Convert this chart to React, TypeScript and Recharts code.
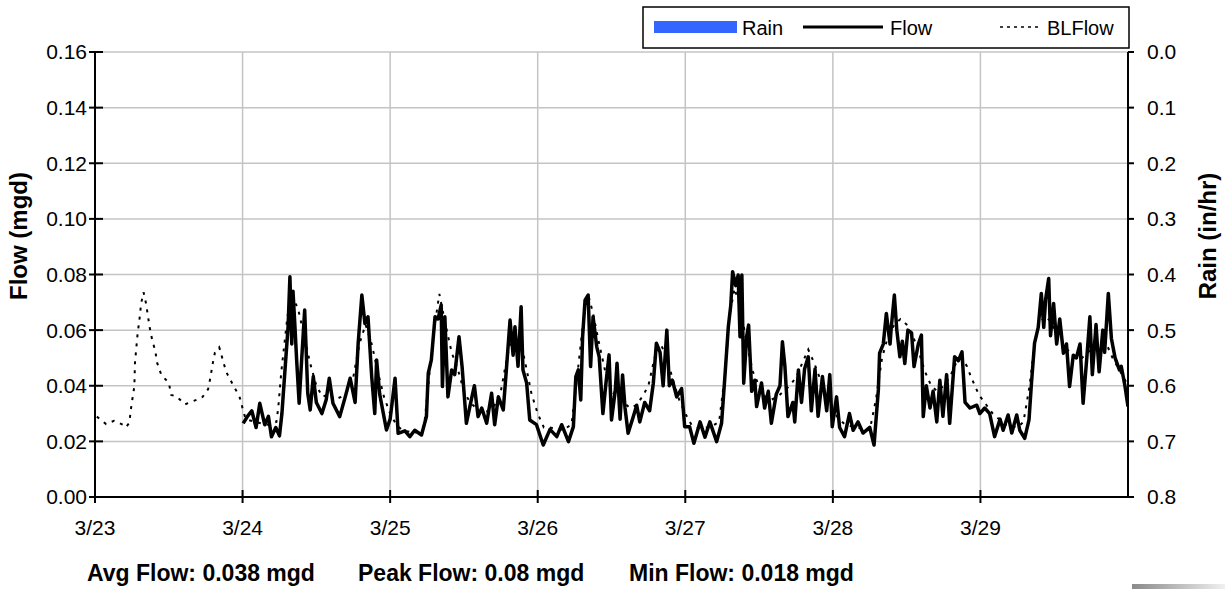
import React from 'react';
import { ComposedChart, Line, Bar, XAxis, YAxis, CartesianGrid } from 'recharts';

// Hours since 3/23 00:00
const rainHours = [0, 24, 48, 72, 96, 120, 144, 168];
const rainValues = [0, 0, 0, 0, 0, 0, 0, 0];

const dayTicks = [0, 24, 48, 72, 96, 120, 144];
const dayLabels = ['3/23', '3/24', '3/25', '3/26', '3/27', '3/28', '3/29'];
const flowTicks = [0, 0.02, 0.04, 0.06, 0.08, 0.1, 0.12, 0.14, 0.16];
const rainTicks = [0, 0.1, 0.2, 0.3, 0.4, 0.5, 0.6, 0.7, 0.8];

// [hour, mgd]
const flow_3_24: [number, number][] = [
  [24.1, 0.0265], [24.8, 0.029], [25.5, 0.031], [26.2, 0.025], [26.8, 0.0337], [27.6, 0.026],
  [28.2, 0.029], [28.7, 0.0217], [29.4, 0.025], [30.0, 0.022], [30.4, 0.03], [30.9, 0.0457],
  [31.4, 0.0612], [31.7, 0.0792], [32.0, 0.055], [32.2, 0.074], [32.5, 0.062], [32.8, 0.049],
  [33.2, 0.0337], [33.6, 0.049], [34.1, 0.0672], [34.6, 0.0373], [35.0, 0.0313], [35.5, 0.0433],
  [36.0, 0.034], [36.9, 0.03], [37.6, 0.035], [38.1, 0.0427], [38.7, 0.0337], [39.8, 0.0289],
  [40.7, 0.036], [41.5, 0.0427], [42.3, 0.034], [42.8, 0.0553], [43.4, 0.0726], [43.9, 0.0624],
  [44.4, 0.0648], [45.0, 0.0433], [45.5, 0.03], [45.8, 0.0493], [46.3, 0.037], [47.4, 0.0241],
];
const flow_3_25: [number, number][] = [
  [48.0, 0.028], [48.8, 0.0427], [49.3, 0.0229], [50.4, 0.0238], [51.2, 0.0217], [52.0, 0.024],
  [53.1, 0.0223], [53.9, 0.0289], [54.2, 0.0445], [54.7, 0.0493], [55.3, 0.0648], [55.8, 0.064],
  [56.3, 0.069], [56.5, 0.0397], [56.9, 0.0648], [57.4, 0.036], [58.0, 0.0457], [58.5, 0.044],
  [59.2, 0.0576], [59.7, 0.0469], [60.4, 0.0265], [61.3, 0.036], [61.7, 0.04], [62.3, 0.0289],
  [62.9, 0.032], [63.7, 0.0265], [64.5, 0.0373], [65.0, 0.026], [65.6, 0.036], [66.4, 0.0313],
  [66.9, 0.0457], [67.5, 0.0636], [68.0, 0.051], [68.3, 0.0612], [68.8, 0.047], [69.3, 0.0684],
  [69.6, 0.0457], [70.2, 0.041], [70.7, 0.0277], [71.8, 0.026],
];
const flow_3_26: [number, number][] = [
  [72.9, 0.0187], [74.0, 0.0243], [75.1, 0.0217], [75.9, 0.026], [77.0, 0.0199], [77.8, 0.0253],
  [78.2, 0.0433], [78.6, 0.0457], [79.0, 0.0349], [79.3, 0.0576], [79.7, 0.0708], [80.2, 0.0726],
  [80.6, 0.0469], [81.0, 0.0648], [81.6, 0.054], [82.0, 0.0504], [82.6, 0.03], [83.1, 0.041],
  [83.6, 0.0511], [84.0, 0.0277], [84.6, 0.038], [84.9, 0.0481], [85.4, 0.028], [85.8, 0.0439],
  [86.2, 0.032], [86.7, 0.0229], [87.5, 0.0286], [88.1, 0.033], [88.6, 0.027], [89.4, 0.034],
  [90.2, 0.031], [90.8, 0.0409], [91.3, 0.0553], [91.9, 0.052], [92.4, 0.04], [93.0, 0.06],
  [93.4, 0.04], [93.9, 0.042], [94.6, 0.036], [95.4, 0.039], [95.9, 0.0253],
];
const flow_3_27: [number, number][] = [
  [96.7, 0.0253], [97.4, 0.0193], [98.4, 0.027], [99.2, 0.0215], [100.0, 0.027], [101.1, 0.0199],
  [101.9, 0.0265], [102.4, 0.042], [103.0, 0.0612], [103.4, 0.069], [103.7, 0.081], [104.2, 0.076],
  [104.6, 0.0798], [104.9, 0.0576], [105.2, 0.0798], [105.5, 0.0409], [106.0, 0.058], [106.3, 0.0618],
  [106.8, 0.038], [107.3, 0.042], [107.6, 0.0325], [108.4, 0.041], [108.9, 0.032], [109.5, 0.038],
  [110.0, 0.0265], [110.8, 0.037], [111.4, 0.04], [111.8, 0.0558], [112.2, 0.047], [112.7, 0.0289],
  [113.5, 0.034], [113.8, 0.027], [114.4, 0.0457], [114.9, 0.034], [115.4, 0.046], [116.0, 0.0504],
  [116.5, 0.031], [117.1, 0.046], [117.6, 0.029], [118.3, 0.0433], [119.0, 0.031], [119.5, 0.044],
  [119.9, 0.0253],
];
const flow_3_28: [number, number][] = [
  [120.6, 0.036], [121.1, 0.025], [121.9, 0.0217], [122.7, 0.03], [123.3, 0.024], [124.1, 0.027],
  [124.9, 0.023], [126.0, 0.025], [126.7, 0.0187], [127.4, 0.0385], [127.6, 0.0517], [128.2, 0.055],
  [128.7, 0.066], [129.3, 0.055], [129.5, 0.061], [130.0, 0.0726], [130.4, 0.06], [130.9, 0.0504],
  [131.3, 0.056], [131.7, 0.048], [132.2, 0.06], [132.8, 0.059], [133.2, 0.0469], [133.9, 0.055],
  [134.4, 0.0582], [134.7, 0.0289], [135.2, 0.04], [135.8, 0.032], [136.3, 0.038], [136.9, 0.027],
  [137.4, 0.042], [137.9, 0.029], [138.5, 0.044], [139.0, 0.0265], [139.8, 0.0504], [140.4, 0.049],
  [141.0, 0.0522], [141.5, 0.034], [142.3, 0.032], [143.4, 0.033], [143.9, 0.03],
];
const flow_3_29: [number, number][] = [
  [144.7, 0.032], [145.5, 0.03], [146.3, 0.0217], [147.2, 0.028], [147.7, 0.024], [148.5, 0.0295],
  [149.1, 0.023], [149.9, 0.0295], [150.4, 0.024], [151.2, 0.0211], [151.9, 0.0277], [152.3, 0.0409],
  [152.8, 0.0553], [153.4, 0.061], [153.9, 0.0732], [154.3, 0.061], [154.6, 0.071], [155.1, 0.0786],
  [155.4, 0.058], [155.9, 0.0696], [156.4, 0.055], [156.9, 0.064], [157.5, 0.0517], [158.0, 0.055],
  [158.5, 0.0397], [159.1, 0.051], [159.6, 0.05], [160.2, 0.055], [160.7, 0.0337], [161.3, 0.05],
  [161.8, 0.0648], [162.2, 0.044], [162.8, 0.062], [163.3, 0.045], [163.9, 0.06], [164.2, 0.052],
  [164.8, 0.0732], [165.3, 0.057], [165.9, 0.05], [166.6, 0.0457], [166.9, 0.047], [167.5, 0.04],
  [168.0, 0.0325],
];

const blflow_3_23: [number, number][] = [
  [0.3, 0.0289], [1.8, 0.0262], [3.1, 0.0274], [4.6, 0.0259], [5.0, 0.025], [5.6, 0.0267],
  [5.8, 0.031], [6.1, 0.0355], [6.4, 0.0397], [6.5, 0.0483], [6.9, 0.058], [7.3, 0.0652],
  [7.5, 0.0696], [7.9, 0.0736], [8.3, 0.0696], [8.6, 0.0652], [8.9, 0.0609], [9.3, 0.0565],
  [9.8, 0.0525], [10.1, 0.0483], [10.8, 0.0438], [12.0, 0.0411], [12.4, 0.0367], [13.3, 0.0361],
  [14.6, 0.0333], [16.0, 0.0345], [17.4, 0.0357], [18.4, 0.0388], [18.8, 0.0433], [19.1, 0.0475],
  [19.5, 0.0519], [20.2, 0.0538], [20.4, 0.0525], [20.8, 0.049], [21.4, 0.0447], [22.4, 0.0405],
  [23.5, 0.0361],
];
const blflow_3_24: [number, number][] = [
  [24.0, 0.0319], [24.5, 0.028], [26, 0.027], [28, 0.026], [29.5, 0.027], [29.8, 0.032],
  [30.3, 0.045], [30.8, 0.055], [31.3, 0.065], [32, 0.072], [33, 0.068], [34, 0.058], [35, 0.048],
  [36, 0.04], [37, 0.036], [38, 0.037], [39, 0.035], [40, 0.036], [41, 0.038], [42, 0.043],
  [43, 0.055], [44, 0.062], [45, 0.055], [46, 0.045], [47, 0.036],
];
const blflow_3_25: [number, number][] = [
  [48, 0.03], [49, 0.026], [50, 0.024], [52, 0.023], [53.5, 0.025], [54.2, 0.04], [55, 0.058],
  [56, 0.073], [57, 0.062], [58, 0.052], [59, 0.046], [60, 0.038], [61, 0.034], [62, 0.032],
  [63, 0.03], [64, 0.031], [65, 0.033], [66, 0.038], [67, 0.05], [68, 0.06], [69, 0.058],
  [70, 0.048], [71, 0.037],
];
const blflow_3_26: [number, number][] = [
  [72, 0.03], [73, 0.025], [74, 0.025], [76, 0.024], [77.5, 0.026], [78.5, 0.045], [79.5, 0.065],
  [80.3, 0.072], [81, 0.066], [82, 0.055], [83, 0.045], [84, 0.038], [85, 0.036], [86, 0.034],
  [87, 0.032], [88, 0.033], [89, 0.036], [90, 0.04], [91, 0.05], [92, 0.055], [93, 0.05],
  [94, 0.042], [95, 0.035],
];
const blflow_3_27: [number, number][] = [
  [96, 0.03], [97, 0.026], [98, 0.025], [100, 0.025], [101.5, 0.027], [102.5, 0.045],
  [103.2, 0.065], [104, 0.075], [105, 0.068], [106, 0.055], [107, 0.045], [108, 0.04],
  [109, 0.036], [110, 0.035], [111, 0.036], [112, 0.038], [113, 0.04], [114, 0.043], [115, 0.048],
  [116, 0.053], [117, 0.048], [118, 0.042], [119, 0.036],
];
const blflow_3_28: [number, number][] = [
  [120, 0.031], [121, 0.028], [122, 0.026], [124, 0.025], [126, 0.024], [127, 0.035], [128, 0.05],
  [129, 0.058], [130, 0.062], [131, 0.064], [132, 0.062], [133, 0.058], [134, 0.052], [135, 0.045],
  [136, 0.04], [137, 0.038], [138, 0.04], [139, 0.043], [140, 0.048], [141, 0.05], [141.8, 0.047],
  [142.5, 0.043], [143.5, 0.038],
];
const blflow_3_29: [number, number][] = [
  [144, 0.036], [145, 0.033], [146, 0.03], [147, 0.028], [148, 0.026], [150, 0.025], [151, 0.027],
  [152, 0.04], [152.8, 0.055], [153.5, 0.062], [154.5, 0.065], [155.5, 0.063], [156.5, 0.058],
  [157.5, 0.055], [158.5, 0.052], [159.5, 0.05], [160.5, 0.05], [161.5, 0.052], [162.5, 0.054],
  [163.5, 0.056], [164.5, 0.055], [165.5, 0.05], [166.5, 0.046], [167.3, 0.043], [168, 0.04],
];

const statTexts = ['Avg Flow: 0.038 mgd', 'Peak Flow: 0.08 mgd', 'Min Flow: 0.018 mgd'];

const toRows = (parts: [number, number][][]) =>
  parts.flat().map(([t, v]) => ({ t, v }));

const flowData = toRows([flow_3_24, flow_3_25, flow_3_26, flow_3_27, flow_3_28, flow_3_29]);
const blData = toRows([
  blflow_3_23, blflow_3_24, blflow_3_25, blflow_3_26, blflow_3_27, blflow_3_28, blflow_3_29,
]);
const rainData = rainHours.map((t, i) => ({ t, rain: rainValues[i] }));

const FONT = '"Liberation Sans", Arial, Helvetica, sans-serif';
const TICK_FS = 21;
const TICK_SIZE = 6;
const X_MARGIN = 17;
const L_MARGIN = 2;

// Bottom axis tick: label plus a short inward tick (the outward part is the default tick line)
const XTick = (p: any) => {
  const { x, y, payload } = p;
  const axisY = y - TICK_SIZE - X_MARGIN;
  const label = dayLabels[dayTicks.indexOf(payload.value)] ?? '';
  return (
    <g>
      <line x1={x} x2={x} y1={axisY} y2={axisY - 7} stroke="#000" strokeWidth={2} />
      <text x={x} y={y} dy="0.71em" textAnchor="middle" fontSize={TICK_FS} fontFamily={FONT} fill="#000">
        {label}
      </text>
    </g>
  );
};

const LTick = (p: any) => {
  const { x, y, payload } = p;
  const axisX = x + TICK_SIZE + L_MARGIN;
  return (
    <g>
      <line x1={axisX} x2={axisX + 8} y1={y} y2={y} stroke="#000" strokeWidth={2} />
      <text x={x} y={y} dy="0.355em" textAnchor="end" fontSize={TICK_FS} fontFamily={FONT} fill="#000">
        {Number(payload.value).toFixed(2)}
      </text>
    </g>
  );
};

export default function App() {
  return (
    <div style={{ position: 'absolute', left: 0, top: 0, width: 1225, height: 589, background: '#fff' }}>
      <ComposedChart
        width={1225}
        height={589}
        data={rainData}
        margin={{ top: 52, right: 0, bottom: 0, left: 0 }}
      >
        <CartesianGrid stroke="#c4c4c4" strokeWidth={1.5} horizontalValues={flowTicks} verticalValues={dayTicks} />
        <XAxis
          dataKey="t"
          type="number"
          domain={[0, 168]}
          ticks={dayTicks}
          height={92}
          tick={XTick}
          tickSize={TICK_SIZE}
          tickMargin={X_MARGIN}
          axisLine={{ stroke: '#000', strokeWidth: 2 }}
          tickLine={{ stroke: '#000', strokeWidth: 2 }}
          allowDataOverflow
        />
        <YAxis
          yAxisId={0}
          orientation="left"
          width={95}
          domain={[0, 0.16]}
          ticks={flowTicks}
          tick={LTick}
          tickSize={TICK_SIZE}
          tickMargin={L_MARGIN}
          axisLine={{ stroke: '#000', strokeWidth: 2 }}
          tickLine={{ stroke: '#000', strokeWidth: 2 }}
          allowDataOverflow
        />
        <YAxis
          yAxisId="rain"
          orientation="right"
          width={97}
          domain={[0, 0.8]}
          reversed
          ticks={rainTicks}
          tickFormatter={(v: number) => v.toFixed(1)}
          tick={{ fill: '#000', fontSize: TICK_FS, fontFamily: FONT, textAnchor: 'start' }}
          tickSize={TICK_SIZE}
          tickMargin={13}
          axisLine={{ stroke: '#000', strokeWidth: 2 }}
          tickLine={{ stroke: '#000', strokeWidth: 2 }}
          allowDataOverflow
        />
        <Bar yAxisId="rain" dataKey="rain" fill="#3366ff" barSize={4} isAnimationActive={false} />
        <Line
          yAxisId={0}
          data={blData}
          dataKey="v"
          type="linear"
          stroke="#000"
          strokeWidth={2}
          strokeDasharray="3 6"
          dot={false}
          activeDot={false}
          isAnimationActive={false}
        />
        <Line
          yAxisId={0}
          data={flowData}
          dataKey="v"
          type="linear"
          stroke="#000"
          strokeWidth={3.5}
          strokeLinejoin="round"
          dot={false}
          activeDot={false}
          isAnimationActive={false}
        />
      </ComposedChart>
      <svg
        width={1225}
        height={589}
        style={{ position: 'absolute', left: 0, top: 0, pointerEvents: 'none' }}
      >
        <defs>
          <linearGradient id="shadowGrad" x1="0" x2="1" y1="0" y2="0">
            <stop offset="0" stopColor="#8a8a8a" />
            <stop offset="1" stopColor="#f0f0f0" />
          </linearGradient>
        </defs>
        {/* legend */}
        <rect x={643} y={7} width={486} height={41} fill="#fff" stroke="#000" strokeWidth={1.5} />
        <rect x={654} y={21} width={83} height={12} fill="#3366ff" />
        <text x={742} y={34.5} fontSize={20} fontFamily={FONT} fill="#000">Rain</text>
        <line x1={803} y1={27} x2={883} y2={27} stroke="#000" strokeWidth={3} />
        <text x={890} y={34.5} fontSize={20} fontFamily={FONT} fill="#000">Flow</text>
        <line x1={1000} y1={27} x2={1041} y2={27} stroke="#000" strokeWidth={1.5} strokeDasharray="3 4" />
        <text x={1047} y={34.5} fontSize={20} fontFamily={FONT} fill="#000">BLFlow</text>
        {/* axis titles */}
        <text
          x={18}
          y={236}
          transform="rotate(-90 18 236)"
          textAnchor="middle"
          dominantBaseline="central"
          fontSize={24}
          fontWeight="bold"
          fontFamily={FONT}
          fill="#000"
        >
          Flow (mgd)
        </text>
        <text
          x={1207}
          y={236}
          transform="rotate(-90 1207 236)"
          textAnchor="middle"
          dominantBaseline="central"
          fontSize={24}
          fontWeight="bold"
          fontFamily={FONT}
          fill="#000"
        >
          Rain (in/hr)
        </text>
        {/* stats */}
        <text x={87} y={581} fontSize={23} fontWeight="bold" fontFamily={FONT} fill="#000">{statTexts[0]}</text>
        <text x={358} y={581} fontSize={23} fontWeight="bold" fontFamily={FONT} fill="#000">{statTexts[1]}</text>
        <text x={629} y={581} fontSize={23} fontWeight="bold" fontFamily={FONT} fill="#000">{statTexts[2]}</text>
        <rect x={1132} y={584} width={93} height={5} fill="url(#shadowGrad)" />
      </svg>
    </div>
  );
}
